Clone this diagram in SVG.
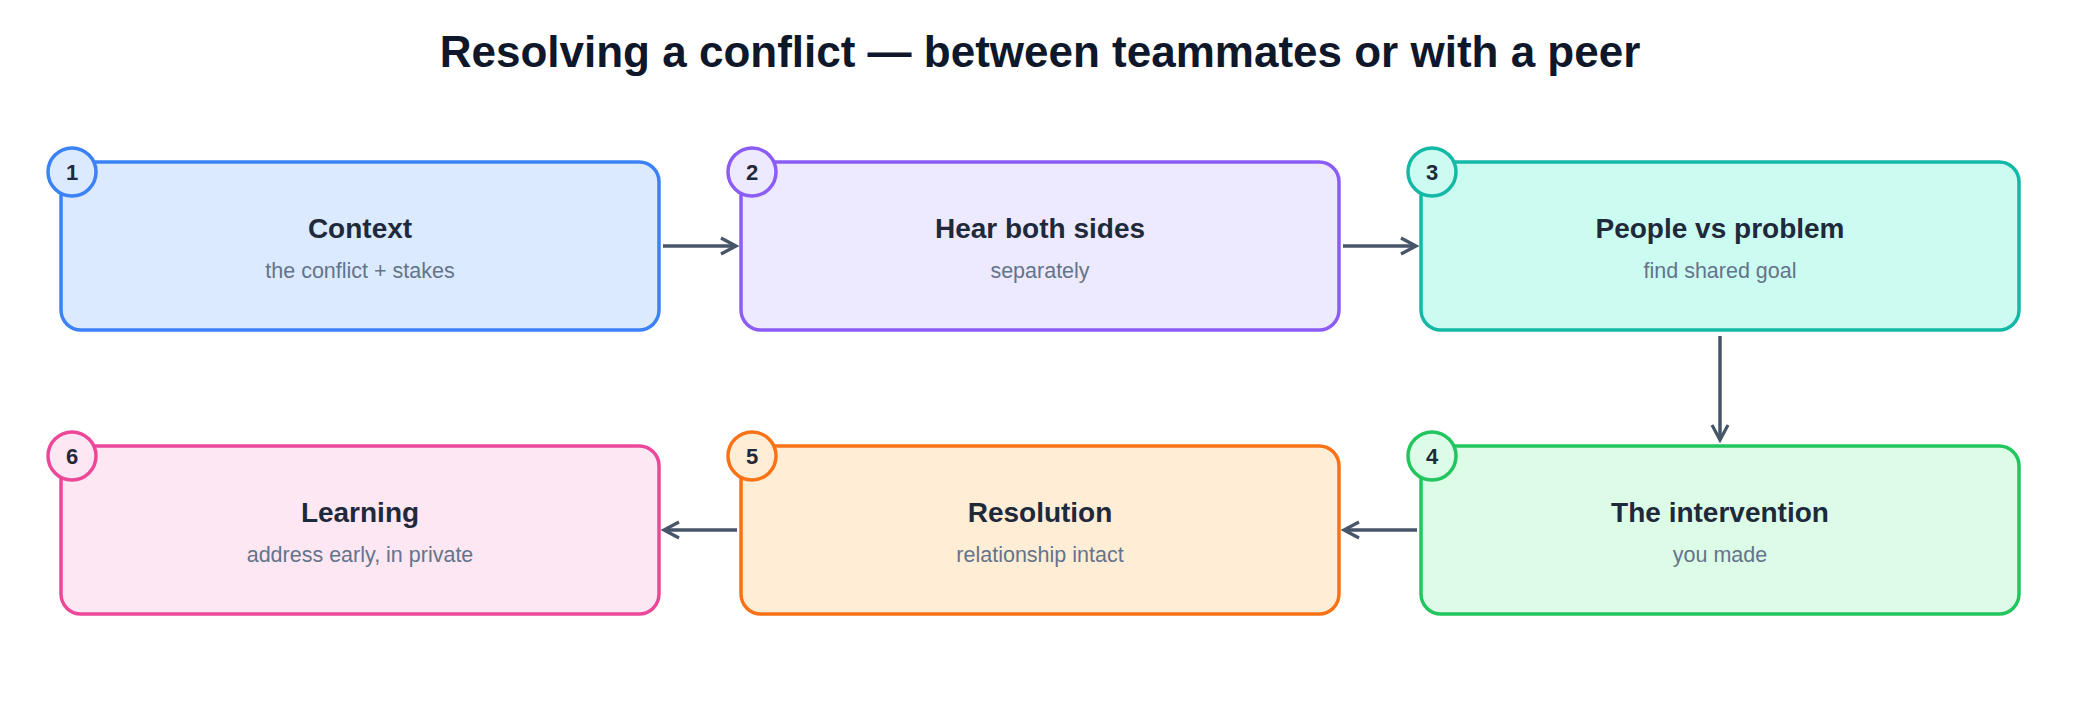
<svg xmlns="http://www.w3.org/2000/svg" width="2080" height="704" viewBox="0 0 2080 704">
<defs>
<style>
.title{font-family:"Liberation Sans",Arial,sans-serif;font-size:44px;font-weight:bold;fill:#0f172a;text-anchor:middle}
.box{stroke-width:3.5}
.h{font-family:"Liberation Sans",Arial,sans-serif;font-size:28px;font-weight:bold;fill:#1e293b;text-anchor:middle}
.s{font-family:"Liberation Sans",Arial,sans-serif;font-size:21.5px;fill:#64748b;text-anchor:middle}
.n{font-family:"Liberation Sans",Arial,sans-serif;font-size:22px;font-weight:bold;fill:#1e293b;text-anchor:middle}
.c{fill:none;stroke:#475569;stroke-width:3.5}
</style>
<marker id="arr" viewBox="0 0 22 22" refX="19" refY="11" markerWidth="22" markerHeight="22" markerUnits="userSpaceOnUse" orient="auto">
<path d="M4,3 L19,11 L4,19" fill="none" stroke="#475569" stroke-width="3.2"/>
</marker>
</defs>
<rect width="2080" height="704" fill="#ffffff"/>
<text class="title" x="1040" y="67">Resolving a conflict — between teammates or with a peer</text>
<g id="connectors">
<line class="c" x1="663" y1="246" x2="736" y2="246" marker-end="url(#arr)"/>
<line class="c" x1="1343" y1="246" x2="1416" y2="246" marker-end="url(#arr)"/>
<line class="c" x1="1720" y1="336" x2="1720" y2="440" marker-end="url(#arr)"/>
<line class="c" x1="1417" y1="530" x2="1344" y2="530" marker-end="url(#arr)"/>
<line class="c" x1="737" y1="530" x2="664" y2="530" marker-end="url(#arr)"/>
</g>
<g id="node1">
<rect class="box" x="61" y="162" width="598" height="168" rx="20" fill="#dbeafe" stroke="#3b82f6"/>
<circle cx="72" cy="172" r="24" fill="#dbeafe" stroke="#3b82f6" stroke-width="3.5"/>
<text class="n" x="72" y="180">1</text>
<text class="h" x="360" y="238">Context</text>
<text class="s" x="360" y="278">the conflict + stakes</text>
</g>
<g id="node2">
<rect class="box" x="741" y="162" width="598" height="168" rx="20" fill="#ede9fe" stroke="#8b5cf6"/>
<circle cx="752" cy="172" r="24" fill="#ede9fe" stroke="#8b5cf6" stroke-width="3.5"/>
<text class="n" x="752" y="180">2</text>
<text class="h" x="1040" y="238">Hear both sides</text>
<text class="s" x="1040" y="278">separately</text>
</g>
<g id="node3">
<rect class="box" x="1421" y="162" width="598" height="168" rx="20" fill="#ccfbf1" stroke="#14b8a6"/>
<circle cx="1432" cy="172" r="24" fill="#ccfbf1" stroke="#14b8a6" stroke-width="3.5"/>
<text class="n" x="1432" y="180">3</text>
<text class="h" x="1720" y="238">People vs problem</text>
<text class="s" x="1720" y="278">find shared goal</text>
</g>
<g id="node4">
<rect class="box" x="1421" y="446" width="598" height="168" rx="20" fill="#dcfce7" stroke="#22c55e"/>
<circle cx="1432" cy="456" r="24" fill="#dcfce7" stroke="#22c55e" stroke-width="3.5"/>
<text class="n" x="1432" y="464">4</text>
<text class="h" x="1720" y="522">The intervention</text>
<text class="s" x="1720" y="562">you made</text>
</g>
<g id="node5">
<rect class="box" x="741" y="446" width="598" height="168" rx="20" fill="#ffedd5" stroke="#f97316"/>
<circle cx="752" cy="456" r="24" fill="#ffedd5" stroke="#f97316" stroke-width="3.5"/>
<text class="n" x="752" y="464">5</text>
<text class="h" x="1040" y="522">Resolution</text>
<text class="s" x="1040" y="562">relationship intact</text>
</g>
<g id="node6">
<rect class="box" x="61" y="446" width="598" height="168" rx="20" fill="#fce7f3" stroke="#ec4899"/>
<circle cx="72" cy="456" r="24" fill="#fce7f3" stroke="#ec4899" stroke-width="3.5"/>
<text class="n" x="72" y="464">6</text>
<text class="h" x="360" y="522">Learning</text>
<text class="s" x="360" y="562">address early, in private</text>
</g>
</svg>
